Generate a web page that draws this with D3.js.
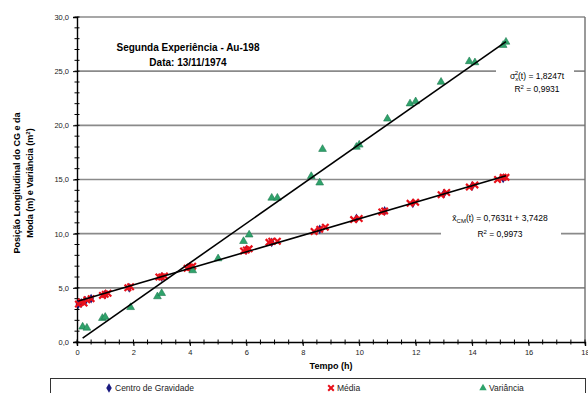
<!DOCTYPE html>
<html>
<head>
<meta charset="utf-8">
<script src="https://cdn.jsdelivr.net/npm/d3@7"></script>
<style>
  body { margin: 0; background: #fff; }
  text { font-family: Arial, "Liberation Sans", sans-serif; }
</style>
</head>
<body>
<svg id="chart" width="588" height="393"></svg>
<script>
// Measured series: [tempo (h), valor]
const gravityCenter = [
  [0.05, 3.5], [0.15, 3.6], [0.3, 3.8], [0.5, 4.0], [1.0, 4.4], [1.85, 5.0],
  [3.0, 6.0], [4.0, 6.9], [6.0, 8.5], [6.9, 9.2], [8.6, 10.4], [9.9, 11.4],
  [10.9, 12.1], [11.9, 12.8], [13.0, 13.7], [14.0, 14.4], [15.1, 15.1]
];
const mode = [
  [0.05, 3.5], [0.15, 3.7], [0.25, 3.6], [0.35, 3.9], [0.5, 4.0],
  [0.9, 4.3], [1.0, 4.4], [1.1, 4.5], [1.8, 5.0], [1.9, 5.1],
  [2.9, 6.0], [3.0, 6.0], [3.1, 6.1], [3.9, 6.8], [4.0, 6.9], [4.1, 7.0],
  [5.9, 8.4], [6.0, 8.5], [6.1, 8.6], [6.8, 9.2], [6.9, 9.3], [7.1, 9.3],
  [8.4, 10.2], [8.6, 10.4], [8.8, 10.6], [9.8, 11.3], [10.0, 11.4],
  [10.8, 12.0], [10.9, 12.1], [11.8, 12.8], [12.0, 12.9], [12.9, 13.6],
  [13.1, 13.8], [13.9, 14.3], [14.1, 14.5], [14.9, 15.0], [15.1, 15.2], [15.2, 15.2]
];
const variance = [
  [0.2, 1.4], [0.35, 1.3], [0.9, 2.2], [1.0, 2.3], [1.9, 3.2], [2.85, 4.2],
  [3.0, 4.5], [4.1, 6.6], [5.0, 7.7], [5.9, 9.3], [6.1, 9.9], [6.9, 13.3],
  [7.1, 13.3], [8.3, 15.3], [8.6, 14.7], [8.7, 17.8], [9.9, 18.0], [10.0, 18.2],
  [11.0, 20.6], [11.8, 22.0], [12.0, 22.2], [12.9, 24.0], [13.9, 25.9],
  [14.1, 25.8], [15.1, 27.4], [15.2, 27.7]
];
const xTickValues = [0, 2, 4, 6, 8, 10, 12, 14, 16, 18];
const yTickValues = [0, 5, 10, 15, 20, 25, 30];
// Linear fits drawn over the measured range
const varianceFit = { slope: 1.8247, intercept: 0, r2: "0,9931" };
const modeFit = { slope: 0.7631, intercept: 3.7428, r2: "0,9973" };
const legendLabels = ["Centro de Gravidade", "Média", "Variância"];

const svg = d3.select("#chart");
const x = d3.scaleLinear().domain([0, 18]).range([77, 585]);
const y = d3.scaleLinear().domain([0, 30]).range([342, 17]);
const fmt = v => d3.format(".1f")(v).replace(".", ",");

// gridlines
svg.append("g").selectAll("line").data(yTickValues.filter(v => v > 0)).join("line")
  .attr("x1", x(0)).attr("x2", x(18))
  .attr("y1", d => y(d)).attr("y2", d => y(d))
  .attr("stroke", "#8a8a8a").attr("stroke-width", 1.6);

// right border of plot area
svg.append("line").attr("x1", x(18)).attr("x2", x(18)).attr("y1", y(30)).attr("y2", y(0))
  .attr("stroke", "#6f6f6f").attr("stroke-width", 1.4);

// axes
const yAxis = d3.axisLeft(y).tickValues(yTickValues).tickFormat(fmt).tickSize(4).tickPadding(4);
const gy = svg.append("g").attr("transform", `translate(${x(0)},0)`).call(yAxis);
const yMinor = d3.range(0, 30.01, 1);
gy.append("g").selectAll("line").data(yMinor).join("line")
  .attr("x1", -2.5).attr("x2", 2.5).attr("y1", d => y(d)).attr("y2", d => y(d))
  .attr("stroke", "#000");

const xAxis = d3.axisBottom(x).tickValues(xTickValues).tickFormat(d3.format("d")).tickSize(4).tickPadding(4);
const gx = svg.append("g").attr("transform", `translate(0,${y(0)})`).call(xAxis);
const xMinor = d3.range(0, 18.01, 0.5);
gx.append("g").selectAll("line").data(xMinor).join("line")
  .attr("x1", d => x(d)).attr("x2", d => x(d)).attr("y1", -2.5).attr("y2", 2.5)
  .attr("stroke", "#000");

[gx, gy].forEach(g => {
  g.select(".domain").attr("stroke", "#000").attr("stroke-width", 1.4);
  g.selectAll(".tick line").attr("stroke", "#000");
  g.selectAll(".tick text").attr("font-size", 7.5).attr("fill", "#222")
    .attr("font-family", "Arial, 'Liberation Sans', sans-serif");
});

// axis titles
svg.append("text").attr("x", (x(0) + x(18)) / 2).attr("y", 369).attr("text-anchor", "middle")
  .attr("font-size", 9).attr("font-weight", "bold").text("Tempo (h)");
const yt = svg.append("text").attr("transform", "translate(20,183) rotate(-90)")
  .attr("text-anchor", "middle").attr("font-size", 9).attr("font-weight", "bold");
yt.append("tspan").attr("x", 0).attr("dy", 0).text("Posição Longitudinal do CG e da");
const l2 = yt.append("tspan").attr("x", 0).attr("dy", 13).text("Moda (m) e Variância (m");
l2.append("tspan").attr("dy", -3).attr("font-size", 6).text("2");
l2.append("tspan").attr("dy", 3).text(")");

// regression lines
const lineFor = (fit, data) => {
  const t0 = d3.min(data, d => d[0]), t1 = d3.max(data, d => d[0]);
  return [[t0, fit.intercept + fit.slope * t0], [t1, fit.intercept + fit.slope * t1]];
};
const line = d3.line().x(d => x(d[0])).y(d => y(d[1]));

// markers
const green = "#2fa36b";
svg.append("g").selectAll("path").data(gravityCenter).join("path")
  .attr("transform", d => `translate(${x(d[0])},${y(d[1])})`)
  .attr("d", d3.symbol(d3.symbolDiamond, 28)).attr("fill", "#1a1a80");
svg.append("g").selectAll("path").data(mode).join("path")
  .attr("transform", d => `translate(${x(d[0])},${y(d[1])})`)
  .attr("d", "M-3.2,-3.2L3.2,3.2M-3.2,3.2L3.2,-3.2")
  .attr("stroke", "#e8101a").attr("stroke-width", 2.2).attr("fill", "none");
svg.append("g").selectAll("path").data(variance).join("path")
  .attr("transform", d => `translate(${x(d[0])},${y(d[1])})`)
  .attr("d", d3.symbol(d3.symbolTriangle, 26)).attr("fill", green)
  .attr("stroke", "#1f7a50").attr("stroke-width", 0.6);

svg.append("path").datum(lineFor(varianceFit, variance)).attr("d", line)
  .attr("stroke", "#000").attr("stroke-width", 1.6).attr("fill", "none");
svg.append("path").datum(lineFor(modeFit, mode)).attr("d", line)
  .attr("stroke", "#000").attr("stroke-width", 1.6).attr("fill", "none");

// chart title
svg.append("text").attr("x", 188).attr("y", 51).attr("text-anchor", "middle")
  .attr("font-size", 10).attr("font-weight", "bold").text("Segunda Experiência - Au-198");
svg.append("text").attr("x", 188).attr("y", 66).attr("text-anchor", "middle")
  .attr("font-size", 10).attr("font-weight", "bold").text("Data: 13/11/1974");

// fit equations
const num = v => String(v).replace(".", ",");
const eq1 = svg.append("g");
eq1.append("rect").attr("x", 496).attr("y", 66).attr("width", 78).attr("height", 30).attr("fill", "#fff");
const e1 = eq1.append("text").attr("x", 537).attr("y", 79).attr("text-anchor", "middle").attr("font-size", 8.5);
e1.append("tspan").text("σ");
e1.append("tspan").attr("dy", 2).attr("font-size", 6).text("x");
e1.append("tspan").attr("dy", -6).attr("dx", -3.5).attr("font-size", 6).text("2");
e1.append("tspan").attr("dy", 4).text(`(t) = ${num(varianceFit.slope)}t`);
const r1 = eq1.append("text").attr("x", 537).attr("y", 92).attr("text-anchor", "middle").attr("font-size", 8.5);
r1.append("tspan").text("R");
r1.append("tspan").attr("dy", -3).attr("font-size", 6).text("2");
r1.append("tspan").attr("dy", 3).text(` = ${varianceFit.r2}`);

const eq2 = svg.append("g");
eq2.append("rect").attr("x", 441).attr("y", 210).attr("width", 120).attr("height", 30).attr("fill", "#fff");
const e2 = eq2.append("text").attr("x", 500).attr("y", 221).attr("text-anchor", "middle").attr("font-size", 8.5);
e2.append("tspan").text("x̄");
e2.append("tspan").attr("dy", 2).attr("font-size", 6).text("CM");
e2.append("tspan").attr("dy", -2).text(`(t) = ${num(modeFit.slope)}t + ${num(modeFit.intercept)}`);
const r2 = eq2.append("text").attr("x", 500).attr("y", 237).attr("text-anchor", "middle").attr("font-size", 8.5);
r2.append("tspan").text("R");
r2.append("tspan").attr("dy", -3).attr("font-size", 6).text("2");
r2.append("tspan").attr("dy", 3).text(` = ${modeFit.r2}`);

// legend
const lg = svg.append("g");
lg.append("rect").attr("x", 50.5).attr("y", 378.5).attr("width", 535).attr("height", 20)
  .attr("fill", "#fff").attr("stroke", "#333").attr("stroke-width", 1);
const legendX = [109, 331, 483];
lg.append("path").attr("transform", `translate(${legendX[0]},388)`)
  .attr("d", d3.symbol(d3.symbolDiamond, 26)).attr("fill", "#1a1a80");
lg.append("path").attr("transform", `translate(${legendX[1]},388)`)
  .attr("d", "M-2.8,-2.8L2.8,2.8M-2.8,2.8L2.8,-2.8")
  .attr("stroke", "#e8101a").attr("stroke-width", 2).attr("fill", "none");
lg.append("path").attr("transform", `translate(${legendX[2]},388)`)
  .attr("d", d3.symbol(d3.symbolTriangle, 24)).attr("fill", green);
lg.selectAll("text.lab").data(legendLabels).join("text").attr("class", "lab")
  .attr("x", (d, i) => legendX[i] + 6).attr("y", 391).attr("font-size", 8.5).attr("fill", "#222")
  .text(d => d);
</script>
</body>
</html>
